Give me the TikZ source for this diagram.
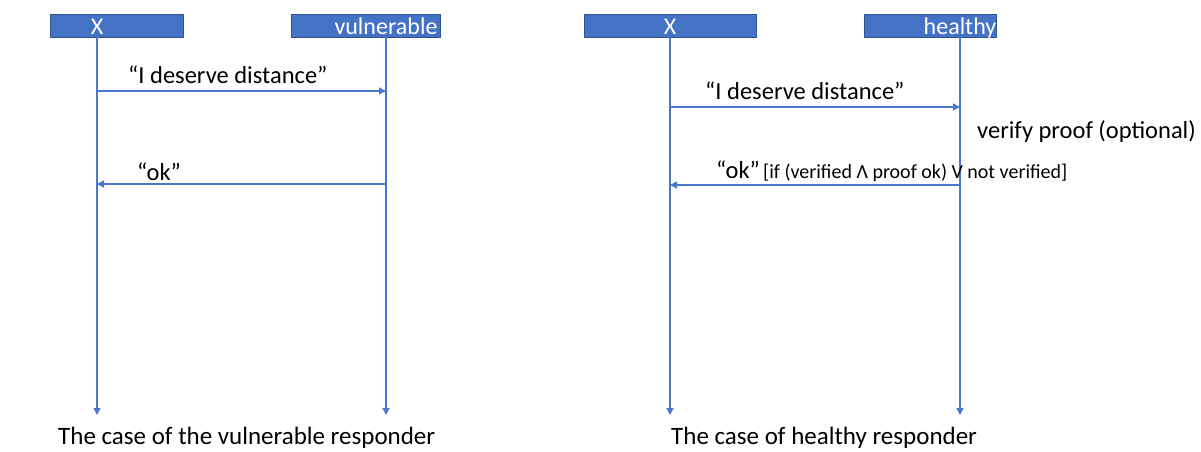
\documentclass[tikz,border=0pt]{standalone}
\usepackage{fontspec}
\setmainfont{Carlito}
\usetikzlibrary{arrows.meta}
\definecolor{hdrfill}{HTML}{4472C4}
\definecolor{hdrline}{HTML}{2F528F}
\definecolor{lifeblue}{HTML}{4A78D0}
\tikzset{
  hdrbox/.style={draw=hdrline, line width=0.8pt, fill=hdrfill, inner sep=0pt, minimum height=23pt, anchor=north west},
  hdrtxt/.style={text=white, font=\fontsize{24}{28}\selectfont, inner sep=0pt, anchor=base},
  life/.style={draw=lifeblue, line width=1.4pt, -{Triangle[length=7pt,width=7pt]}},
  msg/.style={draw=lifeblue, line width=1.4pt, -{Triangle[length=7pt,width=7pt]}},
  lbl/.style={font=\fontsize{24.5}{28}\selectfont, inner sep=0pt, anchor=base west},
  captiontxt/.style={font=\fontsize{25}{29}\selectfont, inner sep=0pt, anchor=base west},
  small/.style={font=\fontsize{20}{23}\selectfont, inner sep=0pt, anchor=base west},
}
\begin{document}
\begin{tikzpicture}[x=1pt,y=-1pt]
\useasboundingbox (0,0) rectangle (1201,451);
% header boxes
\node[hdrbox, minimum width=133pt] (bx1) at (50,14) {};
\node[hdrbox, minimum width=149pt] (bv) at (291,14) {};
\node[hdrbox, minimum width=172pt] (bx2) at (584,14) {};
\node[hdrbox, minimum width=132pt] (bh) at (864,14) {};
\node[hdrtxt] (tx1) at (97,34) {X};
\node[hdrtxt] (tv) at (386,34) {vulnerable};
\node[hdrtxt] (tx2) at (670,34) {X};
\node[hdrtxt] (th) at (960,34) {healthy};
% lifeline coordinates
\coordinate (x1top) at (97,37);   \coordinate (x1bot) at (97,415);
\coordinate (vtop)  at (386,37);  \coordinate (vbot)  at (386,415);
\coordinate (x2top) at (670,37);  \coordinate (x2bot) at (670,415);
\coordinate (htop)  at (960,37);  \coordinate (hbot)  at (960,415);
\draw[life] (x1top) -- (x1bot);
\draw[life] (vtop) -- (vbot);
\draw[life] (x2top) -- (x2bot);
\draw[life] (htop) -- (hbot);
% messages left
\coordinate (m1s) at (97,91);  \coordinate (m1e) at (386,91);
\draw[msg] (m1s) -- (m1e);
\node[lbl] (l1) at (128,83) {“I deserve distance”};
\coordinate (m2s) at (386,184); \coordinate (m2e) at (97,184);
\draw[msg] (m2s) -- (m2e);
\node[lbl] (l2) at (137,180) {“ok”};
% messages right
\coordinate (m3s) at (670,107); \coordinate (m3e) at (960,107);
\draw[msg] (m3s) -- (m3e);
\node[lbl] (l3) at (705,99) {“I deserve distance”};
\node[lbl] (l4) at (977,138) {verify proof (optional)};
\coordinate (m4s) at (960,185); \coordinate (m4e) at (670,185);
\draw[msg] (m4s) -- (m4e);
\node[lbl] (l5) at (716,178) {“ok”};
\node[small] (l6) at (763,178) {[if (verified Λ proof ok) V not verified]};
% captions
\node[captiontxt] (c1) at (58,444) {The case of the vulnerable responder};
\node[captiontxt] (c2) at (671,444) {The case of healthy responder};
\end{tikzpicture}
\end{document}
